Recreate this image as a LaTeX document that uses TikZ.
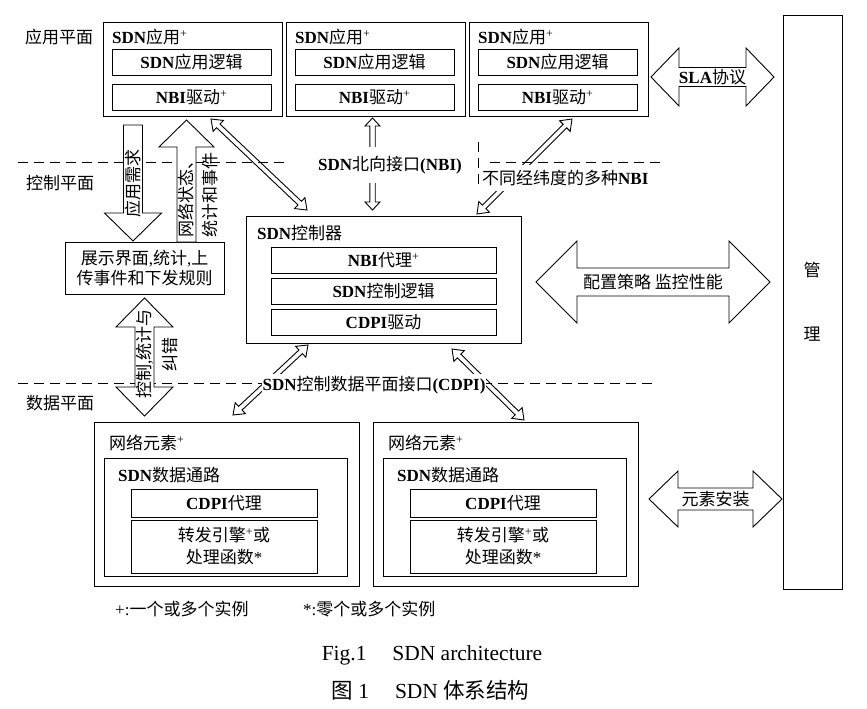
\documentclass[tikz,border=0pt]{standalone}
\usepackage{fontspec}
\setmainfont{Liberation Serif}
\newfontfamily\zhfont{Noto Sans CJK SC}
\newcommand{\zh}[1]{{\zhfont #1}}
\usetikzlibrary{calc}

\tikzset{
    box/.style={draw, line width=0.9pt, inner sep=0pt},
    plane/.style={dash pattern=on 10pt off 6pt, line width=0.9pt},
    half shaft/.store in=\halfshaft, half head/.store in=\halfhead, head len/.store in=\headlen,
    half shaft=2.5, half head=7.5, head len=10,
    dblarrow/.style={line width=0.9pt, to path={
        -- ($(\tikztostart)!\headlen pt!(\tikztotarget)!\halfhead pt!90:(\tikztotarget)$)
        -- ($(\tikztostart)!\headlen pt!(\tikztotarget)!\halfshaft pt!90:(\tikztotarget)$)
        -- ($(\tikztotarget)!\headlen pt!(\tikztostart)!\halfshaft pt!-90:(\tikztostart)$)
        -- ($(\tikztotarget)!\headlen pt!(\tikztostart)!\halfhead pt!-90:(\tikztostart)$)
        -- (\tikztotarget)
        -- ($(\tikztotarget)!\headlen pt!(\tikztostart)!\halfhead pt!90:(\tikztostart)$)
        -- ($(\tikztotarget)!\headlen pt!(\tikztostart)!\halfshaft pt!90:(\tikztostart)$)
        -- ($(\tikztostart)!\headlen pt!(\tikztotarget)!\halfshaft pt!-90:(\tikztotarget)$)
        -- ($(\tikztostart)!\headlen pt!(\tikztotarget)!\halfhead pt!-90:(\tikztotarget)$)
        -- cycle}},
    sglarrow/.style={line width=0.9pt, to path={
        -- ($(\tikztostart)!\halfshaft pt!90:(\tikztotarget)$)
        -- ($(\tikztotarget)!\headlen pt!(\tikztostart)!\halfshaft pt!-90:(\tikztostart)$)
        -- ($(\tikztotarget)!\headlen pt!(\tikztostart)!\halfhead pt!-90:(\tikztostart)$)
        -- (\tikztotarget)
        -- ($(\tikztotarget)!\headlen pt!(\tikztostart)!\halfhead pt!90:(\tikztostart)$)
        -- ($(\tikztotarget)!\headlen pt!(\tikztostart)!\halfshaft pt!90:(\tikztostart)$)
        -- ($(\tikztostart)!\halfshaft pt!-90:(\tikztotarget)$)
        -- cycle}}
}

\begin{document}
\begin{tikzpicture}[x=1pt, y=-1pt, font=\fontsize{17}{20}\selectfont]
        \useasboundingbox (0,0) rectangle (867,709);

        % Plane labels
        \node (lapp) at (59,37) {\zh{应用平面}};
        \node (lctl) at (60,183) {\zh{控制平面}};
        \node (ldat) at (60,403) {\zh{数据平面}};

        % Draw the plane boundaries
        \draw[plane] (18,162) -- (287,162);
        \draw[plane] (490,162) -- (660,162);
        \draw[plane] (478,142) -- (478,188);
        \draw[plane] (18,383) -- (658,383);

        % Draw application boxes
        \node[box, minimum width=179, minimum height=94] (app1) at (192.5,69) {};
        \node[anchor=west, inner sep=0pt] (app1t) at (112,37) {\textbf{SDN}\zh{应用}\textsuperscript{+}};
        \node[box, minimum width=159, minimum height=26] (app1l) at (191.5,62) {\textbf{SDN}\zh{应用逻辑}};
        \node[box, minimum width=159, minimum height=26] (app1d) at (191.5,97) {\textbf{NBI}\zh{驱动}\textsuperscript{+}};

        \node[box, minimum width=179, minimum height=94] (app2) at (375.5,69) {};
        \node[anchor=west, inner sep=0pt] (app2t) at (295,37) {\textbf{SDN}\zh{应用}\textsuperscript{+}};
        \node[box, minimum width=159, minimum height=26] (app2l) at (374.5,62) {\textbf{SDN}\zh{应用逻辑}};
        \node[box, minimum width=159, minimum height=26] (app2d) at (374.5,97) {\textbf{NBI}\zh{驱动}\textsuperscript{+}};

        \node[box, minimum width=179, minimum height=94] (app3) at (558.5,69) {};
        \node[anchor=west, inner sep=0pt] (app3t) at (478,37) {\textbf{SDN}\zh{应用}\textsuperscript{+}};
        \node[box, minimum width=159, minimum height=26] (app3l) at (557.5,62) {\textbf{SDN}\zh{应用逻辑}};
        \node[box, minimum width=159, minimum height=26] (app3d) at (557.5,97) {\textbf{NBI}\zh{驱动}\textsuperscript{+}};

        % Management column
        \node[box, minimum width=59, minimum height=574] (mgmt) at (812.5,302) {};
        \node (mgmt1) at (812,270) {\zh{管}};
        \node (mgmt2) at (812,334) {\zh{理}};

        % Draw the controller
        \node[box, minimum width=275, minimum height=127] (ctl) at (383.5,279.5) {};
        \node[anchor=west, inner sep=0pt] (ctlt) at (257,233) {\textbf{SDN}\zh{控制器}};
        \node[box, minimum width=225, minimum height=26] (ctla) at (383.5,260) {\textbf{NBI}\zh{代理}\textsuperscript{+}};
        \node[box, minimum width=225, minimum height=26] (ctll) at (383.5,291) {\textbf{SDN}\zh{控制逻辑}};
        \node[box, minimum width=225, minimum height=26] (ctld) at (383.5,322) {\textbf{CDPI}\zh{驱动}};

        % Left interface box
        \node[box, minimum width=159, minimum height=52, align=center] (ui) at (144.5,268) {\zh{展示界面},\zh{统计},\zh{上}\\\zh{传事件和下发规则}};

        % Draw network elements
        \node[box, minimum width=265, minimum height=164] (ne1) at (226.5,504) {};
        \node[anchor=west, inner sep=0pt] (ne1t) at (109,443) {\zh{网络元素}\textsuperscript{+}};
        \node[box, minimum width=243, minimum height=118] (dp1) at (225.5,517) {};
        \node[anchor=west, inner sep=0pt] (dp1t) at (118,475) {\textbf{SDN}\zh{数据通路}};
        \node[box, minimum width=186, minimum height=28] (ag1) at (224,503) {\textbf{CDPI}\zh{代理}};
        \node[box, minimum width=186, minimum height=53, align=center, font=\fontsize{17}{22}\selectfont] (fw1) at (224,546.5) {\zh{转发引擎}\textsuperscript{+}\zh{或}\\\zh{处理函数}*};

        \node[box, minimum width=265, minimum height=164] (ne2) at (505.5,504) {};
        \node[anchor=west, inner sep=0pt] (ne2t) at (388,443) {\zh{网络元素}\textsuperscript{+}};
        \node[box, minimum width=243, minimum height=118] (dp2) at (504.5,517) {};
        \node[anchor=west, inner sep=0pt] (dp2t) at (397,475) {\textbf{SDN}\zh{数据通路}};
        \node[box, minimum width=186, minimum height=28] (ag2) at (503,503) {\textbf{CDPI}\zh{代理}};
        \node[box, minimum width=186, minimum height=53, align=center, font=\fontsize{17}{22}\selectfont] (fw2) at (503,546.5) {\zh{转发引擎}\textsuperscript{+}\zh{或}\\\zh{处理函数}*};

        % Draw NBI and CDPI arrows
        \coordinate (n1a) at (211,119);
        \coordinate (n1b) at (307,210);
        \coordinate (n2a) at (372.5,118);
        \coordinate (n2b) at (372.5,210);
        \coordinate (n3a) at (572,119);
        \coordinate (n3b) at (477,214);
        \coordinate (c1a) at (308,345);
        \coordinate (c1b) at (233,415);
        \coordinate (c2a) at (452,349);
        \coordinate (c2b) at (524,420);

        \draw[dblarrow] (n1a) to (n1b);
        \draw[dblarrow, half shaft=2.7, head len=8] (n2a) to (n2b);
        \draw[dblarrow] (n3a) to (n3b);
        \draw[dblarrow] (c1a) to (c1b);
        \draw[dblarrow] (c2a) to (c2b);

        % Interface labels
        \node[fill=white, inner xsep=2pt, inner ysep=9pt] (nbi) at (390,165) {\textbf{SDN}\zh{北向接口}\textbf{(NBI)}};
        \node[fill=white, anchor=west, inner xsep=2pt, inner ysep=5pt] (nbis) at (480,178) {\zh{不同经纬度的多种}\textbf{NBI}};
        \node[fill=white, inner xsep=1pt, inner ysep=2pt] (cdpi) at (374,385) {\textbf{SDN}\zh{控制数据平面接口}\textbf{(CDPI)}};

        % Draw the block arrows
        \coordinate (req1) at (133,125);
        \coordinate (req2) at (133,241);
        \coordinate (st1) at (186.5,242);
        \coordinate (st2) at (186.5,120);
        \coordinate (cs1) at (144.5,298);
        \coordinate (cs2) at (144.5,416);
        \coordinate (sla1) at (651,77);
        \coordinate (sla2) at (774,77);
        \coordinate (cfg1) at (536,282);
        \coordinate (cfg2) at (770,282);
        \coordinate (ins1) at (649,499);
        \coordinate (ins2) at (782,499);

        \draw[sglarrow, fill=white, half shaft=9.5, half head=28.5, head len=28] (req1) to (req2);
        \draw[sglarrow, fill=white, half shaft=9.5, half head=27.5, head len=27] (st1) to (st2);
        \draw[dblarrow, fill=white, half shaft=9.5, half head=28.5, head len=29] (cs1) to (cs2);
        \draw[dblarrow, fill=white, half shaft=9.5, half head=29, head len=28] (sla1) to (sla2);
        \draw[dblarrow, fill=white, half shaft=14, half head=41, head len=41] (cfg1) to (cfg2);
        \draw[dblarrow, fill=white, half shaft=11, half head=28, head len=29] (ins1) to (ins2);

        \node[rotate=90] (reqt) at (133,183) {\zh{应用需求}};
        \node[rotate=90, align=center, font=\fontsize{17}{24}\selectfont] (stt) at (198,195) {\zh{网络状态、}\\\zh{统计和事件}};
        \node[rotate=90, align=center, font=\fontsize{17}{26}\selectfont] (cst) at (157,354) {\zh{控制},\zh{统计与}\\\zh{纠错}};
        \node (slat) at (712.5,77) {\textbf{SLA}\zh{协议}};
        \node (cfgt) at (653,282) {\zh{配置策略 监控性能}};
        \node (inst) at (715.5,499) {\zh{元素安装}};

        % Notes and caption
        \node[anchor=west, inner sep=0pt] (note1) at (115,609) {+:\zh{一个或多个实例}};
        \node[anchor=west, inner sep=0pt] (note2) at (303,609) {*:\zh{零个或多个实例}};
        \node[font=\fontsize{21.5}{24}\selectfont] (cap1) at (432,655) {Fig.1\hspace{1.2em}SDN architecture};
        \node[font=\fontsize{21.5}{24}\selectfont] (cap2) at (430.5,690) {\zh{图} 1\hspace{1.2em}SDN \zh{体系结构}};

\end{tikzpicture}
\end{document}
